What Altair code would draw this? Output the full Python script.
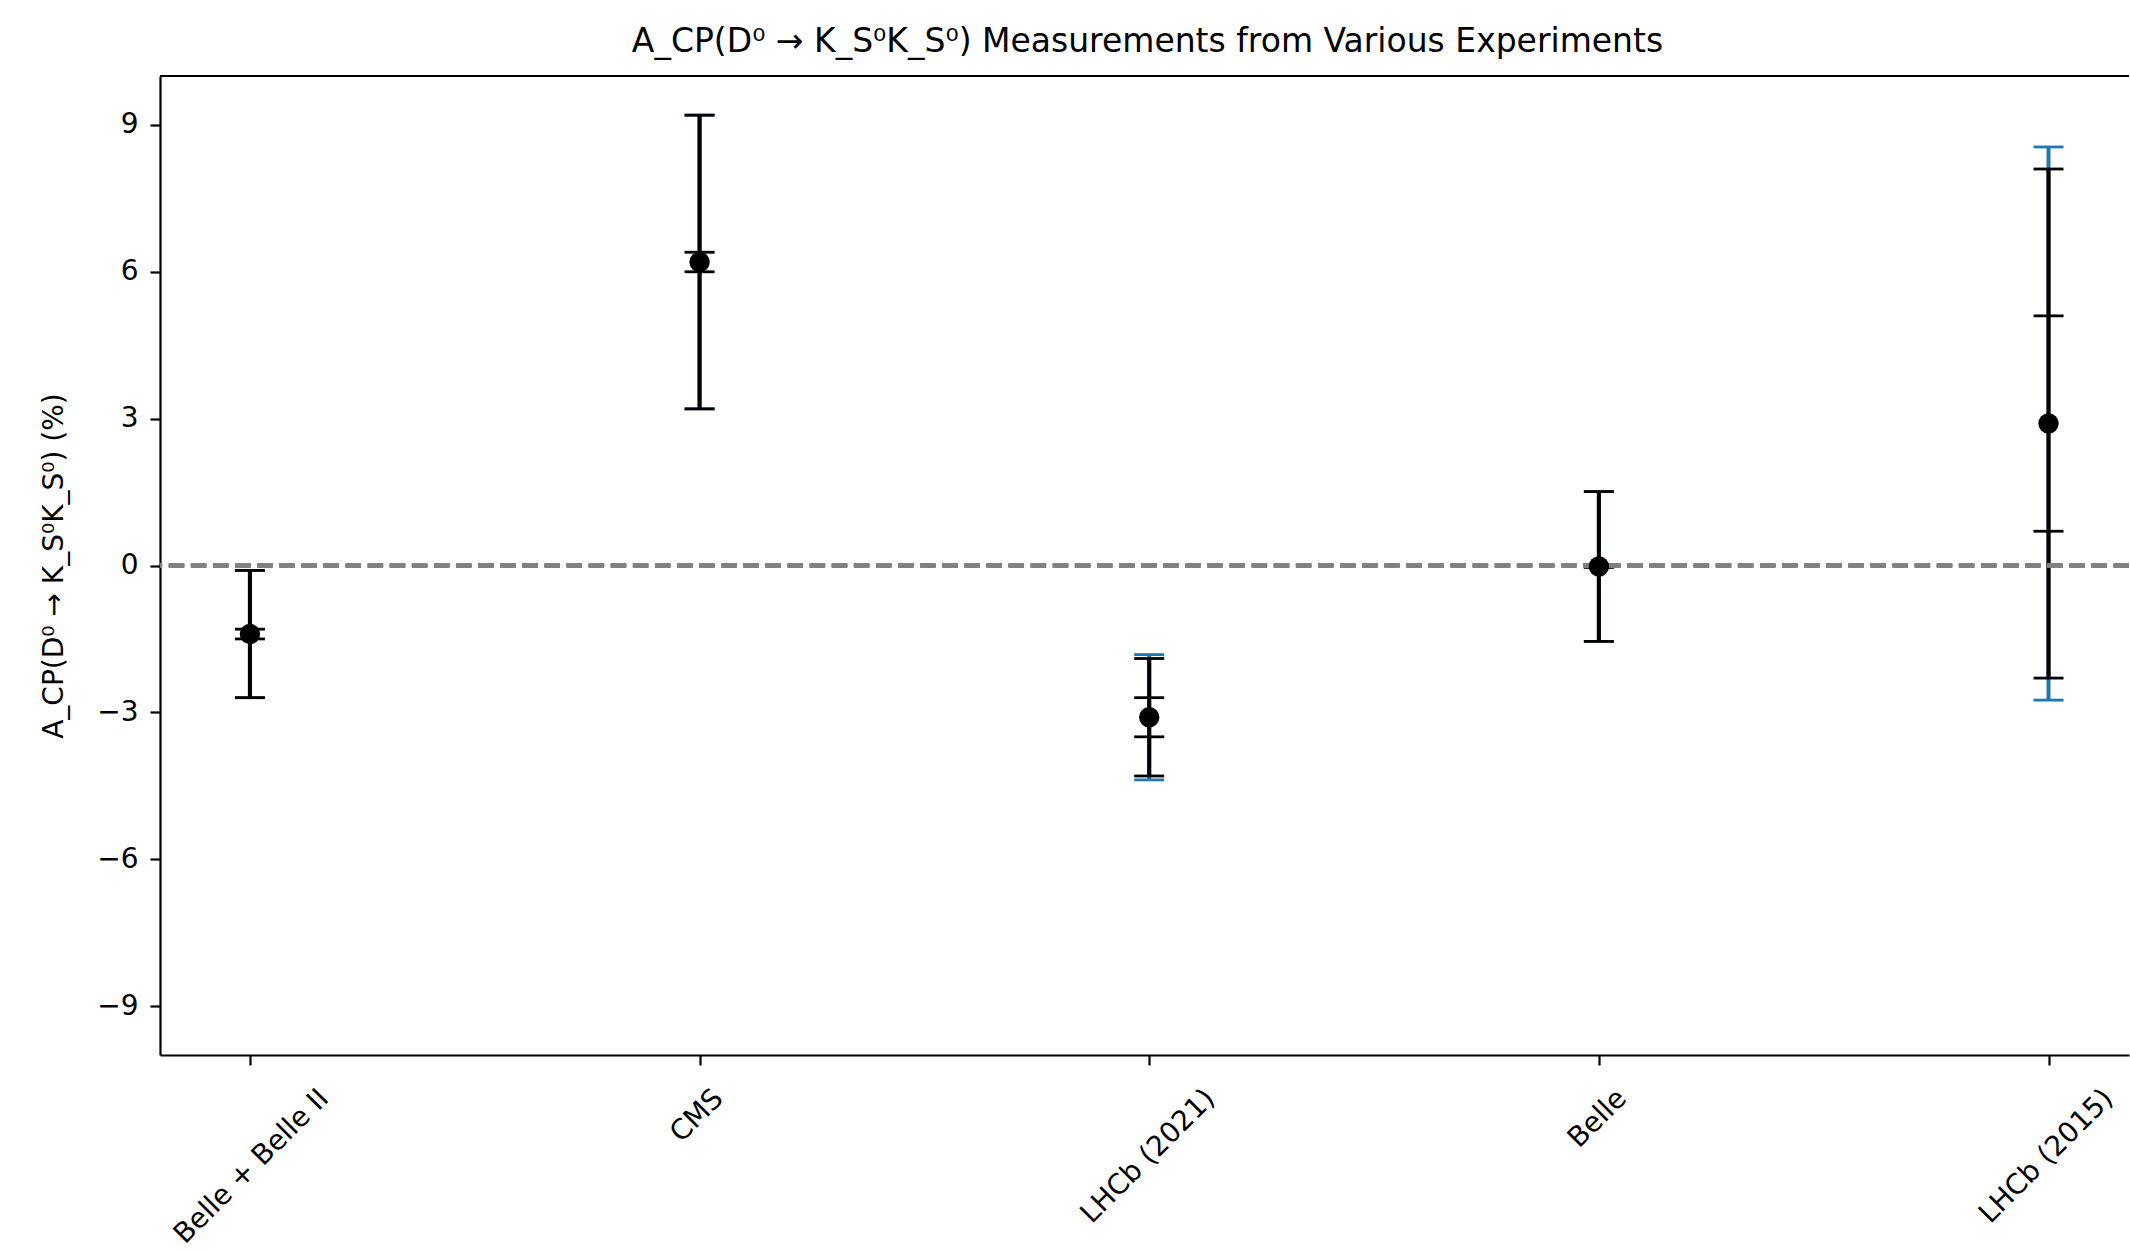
import json
import altair as alt
import pandas as pd

# ---- data ----
experiments = ["Belle + Belle II", "CMS", "LHCb (2021)", "Belle", "LHCb (2015)"]
acp_values = [-1.4, 6.2, -3.1, -0.02, 2.9]
stat_errors = [1.3, 3.0, 1.2, 1.53, 5.2]
syst_errors = [0.1, 0.2, 0.4, 0.02, 2.2]
total_errors = [1.3, 3.0, 1.28, 1.53, 5.65]
y_ticks = [-9, -6, -3, 0, 3, 6, 9]
y_domain = [-10, 10]
x_domain = [-0.2, 4.179]

# ---- style ----
label_offsets = [64, 9, 51, 13, 50]
FONT = "DejaVu Sans"
BLUE = "#1f77b4"

idx = list(range(len(experiments)))
df = pd.DataFrame({
    "idx": idx,
    "experiment": experiments,
    "acp": acp_values,
    "stat_lo": [v - e for v, e in zip(acp_values, stat_errors)],
    "stat_hi": [v + e for v, e in zip(acp_values, stat_errors)],
    "syst_lo": [v - e for v, e in zip(acp_values, syst_errors)],
    "syst_hi": [v + e for v, e in zip(acp_values, syst_errors)],
    "tot_lo": [v - e for v, e in zip(acp_values, total_errors)],
    "tot_hi": [v + e for v, e in zip(acp_values, total_errors)],
})

label_expr = json.dumps(experiments) + "[datum.value]"
offset_cond = {
    "condition": [{"test": f"datum.value == {i}", "value": o}
                  for i, o in enumerate(label_offsets[:-1])],
    "value": label_offsets[-1],
}

x_axis = alt.Axis(
    values=idx, labelExpr=label_expr, labelAngle=315, labelAlign="right",
    labelBaseline="top", labelPadding=19, labelOffset=offset_cond,
    labelOverlap=False, labelBound=False, labelFlush=False, labelLimit=1000,
    title=None,
)
y_title = "A_CP(D⁰ → K_S⁰K_S⁰) (%)"
y_axis = alt.Axis(
    values=y_ticks, title=y_title, labelPadding=12,
    titleX=-106, titleY=489.5, titleAngle=270, titleAlign="center",
    titleBaseline="middle",
)

X = alt.X("idx:Q", scale=alt.Scale(domain=x_domain, nice=False, zero=False), axis=x_axis)


def Y(field):
    return alt.Y(f"{field}:Q", scale=alt.Scale(domain=y_domain, nice=False, zero=False),
                 axis=y_axis, title=y_title)


base = alt.Chart(df)

blue_stem = base.mark_rule(color=BLUE, strokeWidth=4).encode(x=X, y=Y("tot_lo"), y2="tot_hi:Q")
blue_cap_lo = base.mark_tick(color=BLUE, orient="horizontal", size=30, thickness=2.8, opacity=1).encode(x=X, y=Y("tot_lo"))
blue_cap_hi = base.mark_tick(color=BLUE, orient="horizontal", size=30, thickness=2.8, opacity=1).encode(x=X, y=Y("tot_hi"))

stem = base.mark_rule(color="black", strokeWidth=4).encode(x=X, y=Y("stat_lo"), y2="stat_hi:Q")
cap_lo = base.mark_tick(color="black", orient="horizontal", size=30, thickness=2.8, opacity=1).encode(x=X, y=Y("stat_lo"))
cap_hi = base.mark_tick(color="black", orient="horizontal", size=30, thickness=2.8, opacity=1).encode(x=X, y=Y("stat_hi"))
scap_lo = base.mark_tick(color="black", orient="horizontal", size=30, thickness=2.8, opacity=1).encode(x=X, y=Y("syst_lo"))
scap_hi = base.mark_tick(color="black", orient="horizontal", size=30, thickness=2.8, opacity=1).encode(x=X, y=Y("syst_hi"))

zero_line = alt.Chart(df).mark_rule(color="gray", strokeWidth=4, strokeDash=[15.4, 6.7]).encode(y=alt.datum(0))

points = base.mark_point(filled=True, shape="circle", size=415, color="black", opacity=1).encode(x=X, y=Y("acp"))

top_frame = alt.Chart(df).mark_rule(color="black", strokeWidth=2.2).encode(y=alt.datum(y_domain[1]))

chart = alt.layer(
    blue_stem, blue_cap_lo, blue_cap_hi, stem, cap_lo, cap_hi, scap_lo, scap_hi,
    zero_line, points, top_frame,
).properties(
    width=1969,
    height=979,
    padding={"left": 160, "top": 76, "right": 1, "bottom": 196},
    autosize=alt.AutoSizeParams(type="none"),
    background="white",
    title=alt.TitleParams(
        text="A_CP(D⁰ → K_S⁰K_S⁰) Measurements from Various Experiments",
        font=FONT, fontSize=33, fontWeight="normal", color="black",
        anchor="middle", offset=16, dx=3,
    ),
).configure_view(stroke=None).configure_axis(
    domainColor="black", domainWidth=2.2, tickColor="black", tickWidth=2.2,
    tickSize=10, labelFont=FONT, labelFontSize=28, labelColor="black",
    grid=False, titleFont=FONT, titleFontSize=28, titleFontWeight="normal",
    titleColor="black",
)

chart.save("out.html", embed_options={"renderer": "svg", "actions": False})
